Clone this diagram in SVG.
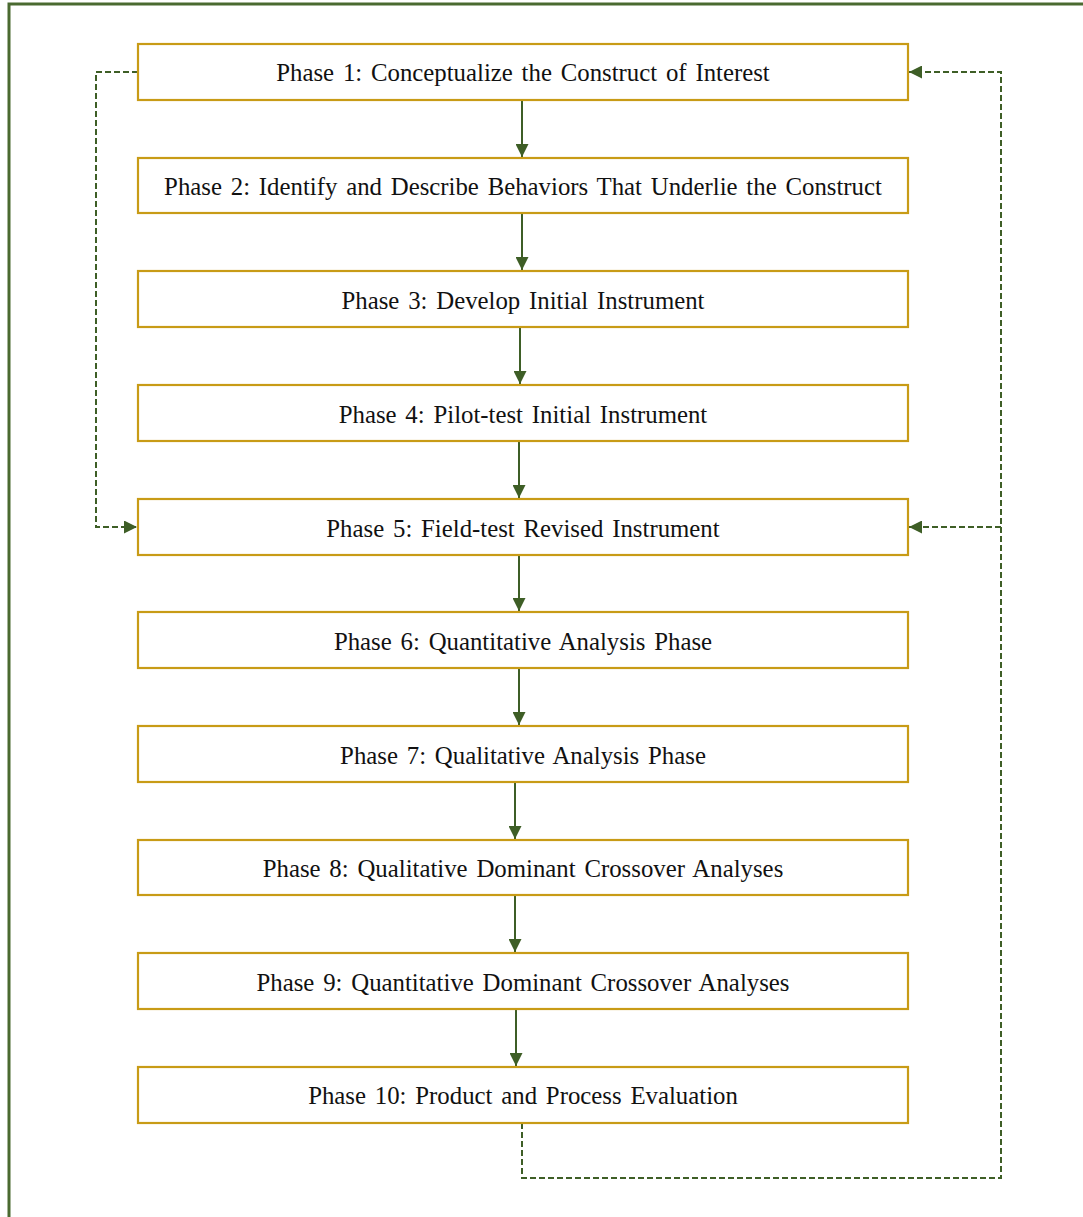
<svg xmlns="http://www.w3.org/2000/svg" width="1083" height="1217" viewBox="0 0 1083 1217">
<style>
.box{fill:#fff;stroke:#C89B16;stroke-width:2.2}
.t{font-family:"Liberation Serif","Times New Roman",serif;font-size:24.8px;word-spacing:2.6px;fill:#111;text-anchor:middle;dominant-baseline:central}
.s{fill:none;stroke:#3E5E26;stroke-width:2}
.d{fill:none;stroke:#3E5E26;stroke-width:2;stroke-dasharray:6,3}
</style>
<defs>
<marker id="ah" viewBox="0 0 10 10" refX="10" refY="5" markerWidth="6.5" markerHeight="6.5" orient="auto" markerUnits="strokeWidth">
<path d="M0,0 L10,5 L0,10 z" fill="#3E5E26"/>
</marker>
</defs>
<rect x="9" y="4" width="1100" height="1240" fill="#fff" stroke="#4A6A30" stroke-width="3"/>
<g id="connectors">
<line class="s" x1="522" y1="100" x2="522" y2="157" marker-end="url(#ah)"/>
<line class="s" x1="522" y1="213" x2="522" y2="270" marker-end="url(#ah)"/>
<line class="s" x1="520" y1="327" x2="520" y2="384" marker-end="url(#ah)"/>
<line class="s" x1="519" y1="441" x2="519" y2="498" marker-end="url(#ah)"/>
<line class="s" x1="519" y1="555" x2="519" y2="611" marker-end="url(#ah)"/>
<line class="s" x1="519" y1="668" x2="519" y2="725" marker-end="url(#ah)"/>
<line class="s" x1="515" y1="782" x2="515" y2="839" marker-end="url(#ah)"/>
<line class="s" x1="515" y1="895" x2="515" y2="952" marker-end="url(#ah)"/>
<line class="s" x1="516" y1="1009" x2="516" y2="1066" marker-end="url(#ah)"/>
<path class="d" d="M138,72 H96 V527 H137" marker-end="url(#ah)"/>
<path class="d" d="M522,1123 V1178 H1001 V72 H909" marker-end="url(#ah)"/>
<path class="d" d="M1001,527 H909" marker-end="url(#ah)"/>
</g>
<g id="n1"><rect class="box" x="138" y="44" width="770" height="56"/><text class="t" x="523" y="72">Phase 1: Conceptualize the Construct of Interest</text></g>
<g id="n2"><rect class="box" x="138" y="158" width="770" height="55"/><text class="t" x="523" y="186">Phase 2: Identify and Describe Behaviors That Underlie the Construct</text></g>
<g id="n3"><rect class="box" x="138" y="271" width="770" height="56"/><text class="t" x="523" y="300">Phase 3: Develop Initial Instrument</text></g>
<g id="n4"><rect class="box" x="138" y="385" width="770" height="56"/><text class="t" x="523" y="414">Phase 4: Pilot-test Initial Instrument</text></g>
<g id="n5"><rect class="box" x="138" y="499" width="770" height="56"/><text class="t" x="523" y="528">Phase 5: Field-test Revised Instrument</text></g>
<g id="n6"><rect class="box" x="138" y="612" width="770" height="56"/><text class="t" x="523" y="641">Phase 6: Quantitative Analysis Phase</text></g>
<g id="n7"><rect class="box" x="138" y="726" width="770" height="56"/><text class="t" x="523" y="755">Phase 7: Qualitative Analysis Phase</text></g>
<g id="n8"><rect class="box" x="138" y="840" width="770" height="55"/><text class="t" x="523" y="868">Phase 8: Qualitative Dominant Crossover Analyses</text></g>
<g id="n9"><rect class="box" x="138" y="953" width="770" height="56"/><text class="t" x="523" y="982">Phase 9: Quantitative Dominant Crossover Analyses</text></g>
<g id="n10"><rect class="box" x="138" y="1067" width="770" height="56"/><text class="t" x="523" y="1095">Phase 10: Product and Process Evaluation</text></g>
</svg>
